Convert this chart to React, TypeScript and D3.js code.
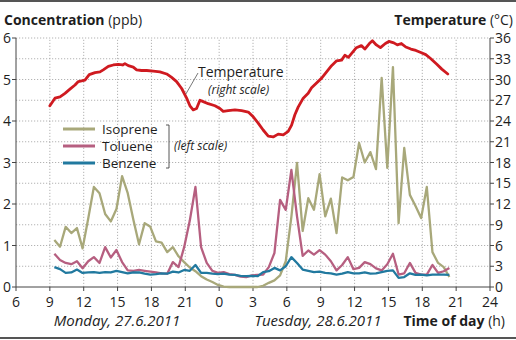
import React from "react";
import * as d3 from "d3";

// ---- data ----
// half-hourly VOC concentrations (ppb), starting Monday 9:24 (hours counted from Monday 0:00)
const vocStart = 9.4;
const vocStep = 0.5;
const isoprene = [1.13,0.97,1.45,1.30,1.42,0.93,1.65,2.41,2.26,1.76,1.58,1.88,2.67,2.26,1.62,1.03,1.54,1.45,1.10,1.07,0.84,0.96,0.74,0.60,0.47,0.38,0.26,0.18,0.12,0.05,0.01,0,0,0,0,0,0,0.03,0.10,0.16,0.28,0.62,1.69,2.99,1.35,2.14,1.86,2.72,1.70,2.13,1.30,2.64,2.57,2.65,3.47,3.00,3.25,2.84,5.04,2.87,5.30,1.54,3.35,2.22,1.95,1.66,2.41,0.84,0.58,0.48,0.24];
const toluene = [0.80,0.65,0.58,0.55,0.62,0.45,0.62,0.72,0.58,0.96,0.71,0.89,0.60,0.40,0.39,0.41,0.39,0.37,0.35,0.33,0.32,0.60,0.48,0.96,1.60,2.41,0.96,0.58,0.39,0.34,0.36,0.31,0.29,0.25,0.24,0.28,0.29,0.30,0.48,0.82,2.10,1.86,2.82,1.70,0.75,0.88,0.78,0.89,0.78,0.62,0.40,0.53,0.72,0.43,0.46,0.60,0.55,0.45,0.40,0.55,0.80,0.30,0.33,0.58,0.34,0.30,0.30,0.53,0.34,0.38,0.46];
const benzene = [0.48,0.43,0.34,0.35,0.42,0.34,0.35,0.36,0.34,0.36,0.35,0.39,0.36,0.33,0.35,0.35,0.32,0.30,0.31,0.33,0.32,0.37,0.35,0.41,0.39,0.53,0.34,0.34,0.32,0.31,0.32,0.30,0.29,0.27,0.26,0.27,0.26,0.36,0.38,0.46,0.40,0.50,0.72,0.58,0.42,0.39,0.36,0.37,0.34,0.33,0.30,0.32,0.36,0.33,0.33,0.35,0.32,0.33,0.36,0.39,0.40,0.22,0.24,0.33,0.29,0.30,0.28,0.30,0.30,0.30,0.29];

const tempHours = [9.0,9.45,9.9,10.34,10.78,11.23,11.52,11.82,12.11,12.49,13.0,13.44,13.73,14.18,14.62,15.06,15.45,15.65,15.95,16.39,16.69,17.13,17.58,18.16,18.75,19.35,19.79,20.23,20.68,21.12,21.41,21.7,22.0,22.3,22.59,23.03,23.63,24.07,24.36,24.8,25.4,25.99,26.58,27.02,27.46,27.9,28.35,28.79,29.23,29.68,30.12,30.42,30.71,31.0,31.45,31.89,32.19,32.63,33.08,33.52,33.96,34.41,34.85,35.14,35.45,35.76,36.16,36.6,36.91,37.31,37.58,37.93,38.29,38.73,39.04,39.48,39.79,40.15,40.54,40.99,41.43,41.87,42.31,42.76,43.29,43.73,44.26];
const tempValues = [26.2,27.3,27.5,28.0,28.6,29.2,29.7,29.8,29.9,30.7,31.0,31.1,31.4,31.9,32.1,32.2,32.1,32.3,32.0,31.8,31.4,31.3,31.3,31.2,31.1,30.8,30.3,29.7,28.7,27.3,26.2,25.6,25.8,27.0,26.8,26.5,26.2,25.8,25.4,25.5,25.6,25.5,25.3,24.6,23.7,22.7,21.8,21.7,22.1,22.0,22.5,23.4,24.9,26.0,27.3,28.0,28.8,29.5,30.2,31.1,32.0,32.7,32.8,33.5,33.2,33.8,34.6,34.9,34.4,35.2,35.6,35.0,34.6,35.2,35.5,35.3,35.0,35.2,34.7,34.4,34.2,33.9,33.6,33.0,32.2,31.5,30.8];

const xTickHours = [6,9,12,15,18,21,24,27,30,33,36,39,42,45,48];
const xTickLabels = ["6","9","12","15","18","21","0","3","6","9","12","15","18","21","24"];
const leftTicks = [0,1,2,3,4,5,6];
const rightTicks = [0,3,6,9,12,15,18,21,24,27,30,33,36];

const seriesNames = ["Isoprene","Toluene","Benzene"];
const seriesColors = ["#a8a87a","#b65f80","#21799f"];
const tempColor = "#cf1a20";

const FONT = "'Open Sans', 'Noto Sans', sans-serif";
const TXT = "#1e1e1e";

export default function App() {
  const W = 516, H = 340;
  const x = d3.scaleLinear().domain([6, 48]).range([16, 490]);
  const yL = d3.scaleLinear().domain([0, 6]).range([287, 38]);
  const yR = d3.scaleLinear().domain([0, 36]).range([287, 38]);

  const vocLine = d3.line<number>()
    .x((_, i) => x(vocStart + i * vocStep))
    .y((v) => yL(v));
  const tempLine = d3.line<number>()
    .x((_, i) => x(tempHours[i]))
    .y((v) => yR(v));

  const series = [isoprene, toluene, benzene];
  const gridY = d3.range(0.5, 6.01, 0.5);
  const gridX = xTickHours.slice(1, -1);

  const legendY = [129, 146, 163];

  return (
    <svg width={W} height={H} style={{ position: "absolute", left: 0, top: 0, background: "#fff" }} fontFamily={FONT}>
      {/* frame lines */}
      <line x1={0} x2={W} y1={1} y2={1} stroke="#555" strokeWidth={2} />
      <line x1={0} x2={W} y1={338} y2={338} stroke="#555" strokeWidth={2} />

      {/* grid */}
      {gridY.map((g) => (
        <line key={"gy" + g} x1={x(6)} x2={x(48)} y1={yL(g)} y2={yL(g)} stroke="#a0a0a0" strokeWidth={0.8} strokeDasharray="1.2,1.8" />
      ))}
      {gridX.map((g) => (
        <line key={"gx" + g} x1={x(g)} x2={x(g)} y1={yL(0)} y2={yL(6)} stroke="#a0a0a0" strokeWidth={0.8} strokeDasharray="1.2,1.8" />
      ))}

      {/* axes */}
      <line x1={x(6)} x2={x(6)} y1={yL(0)} y2={yL(6)} stroke="#444" strokeWidth={1} />
      <line x1={x(48)} x2={x(48)} y1={yL(0)} y2={yL(6)} stroke="#444" strokeWidth={1} />
      <line x1={x(6)} x2={x(48)} y1={yL(0)} y2={yL(0)} stroke="#444" strokeWidth={1} />
      {leftTicks.map((t) => (
        <g key={"lt" + t}>
          <line x1={x(6) - 4} x2={x(6)} y1={yL(t)} y2={yL(t)} stroke="#444" />
          <text x={x(6) - 5} y={yL(t)} dy="0.36em" textAnchor="end" fontSize={14} fill={TXT}>{t}</text>
        </g>
      ))}
      {rightTicks.map((t) => (
        <g key={"rt" + t}>
          <line x1={x(48)} x2={x(48) + 4} y1={yR(t)} y2={yR(t)} stroke="#444" />
          <text x={x(48) + 5} y={yR(t)} dy="0.36em" textAnchor="start" fontSize={14} fill={TXT}>{t}</text>
        </g>
      ))}
      {xTickHours.map((h, i) => (
        <g key={"xt" + h}>
          <line x1={x(h)} x2={x(h)} y1={yL(0)} y2={yL(0) + 4} stroke="#444" />
          <text x={x(h)} y={307} textAnchor="middle" fontSize={14} fill={TXT}>{xTickLabels[i]}</text>
        </g>
      ))}

      {/* series */}
      {series.map((s, k) => (
        <path key={seriesNames[k]} d={vocLine(s) || ""} fill="none" stroke={seriesColors[k]} strokeWidth={2.3} strokeLinejoin="round" />
      ))}
      <path d={tempLine(tempValues) || ""} fill="none" stroke={tempColor} strokeWidth={2.8} strokeLinejoin="round" strokeLinecap="round" />

      {/* temperature annotation */}
      <line x1={x(21.05)} x2={198} y1={yR(27.9)} y2={73} stroke="#555" strokeWidth={0.8} />
      <text x={198} y={77} fontSize={14} fill={TXT}>Temperature</text>
      <text x={208} y={94} fontSize={12} fontStyle="italic" fill={TXT}>(right scale)</text>

      {/* legend */}
      {seriesNames.map((n, k) => (
        <g key={"lg" + n}>
          <line x1={63} x2={95} y1={legendY[k]} y2={legendY[k]} stroke={seriesColors[k]} strokeWidth={3} />
          <text x={102} y={legendY[k]} dy="0.35em" fontSize={13.5} fill={TXT}>{n}</text>
        </g>
      ))}
      <path d="M166,125 H169 V168 H166" fill="none" stroke="#444" strokeWidth={0.9} />
      <text x={174} y={150} fontSize={12} fontStyle="italic" fill={TXT}>(left scale)</text>

      {/* titles */}
      <text x={4} y={25} fontSize={14} fill={TXT}>
        <tspan fontWeight="bold">Concentration</tspan> (ppb)
      </text>
      <text x={513} y={25} fontSize={14} textAnchor="end" fill={TXT}>
        <tspan fontWeight="bold">Temperature</tspan> (°C)
      </text>
      <text x={117} y={326} textAnchor="middle" fontSize={15} fontStyle="italic" fill={TXT}>Monday, 27.6.2011</text>
      <text x={318} y={326} textAnchor="middle" fontSize={15} fontStyle="italic" fill={TXT}>Tuesday, 28.6.2011</text>
      <text x={505} y={326} textAnchor="end" fontSize={14} fill={TXT}>
        <tspan fontWeight="bold">Time of day</tspan> (h)
      </text>
    </svg>
  );
}
